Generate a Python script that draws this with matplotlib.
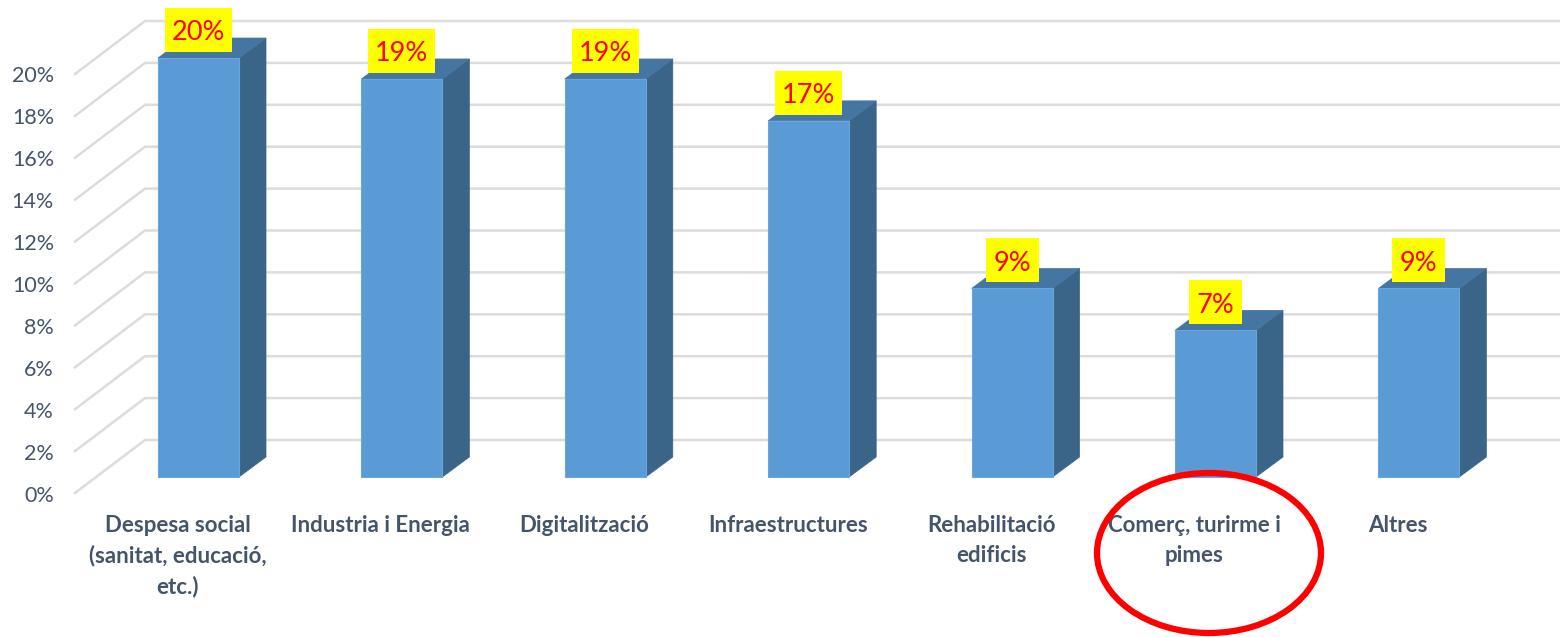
import matplotlib
matplotlib.use('Agg')
import matplotlib.pyplot as plt
from matplotlib.patches import Ellipse, Polygon, Rectangle

# data
categories = ['Despesa social\n(sanitat, educació,\netc.)', 'Industria i Energia', 'Digitalització',
              'Infraestructures', 'Rehabilitació\nedificis', 'Comerç, turirme i\npimes', 'Altres']
values = [20, 19, 19, 17, 9, 7, 9]
y_ticks = [0, 2, 4, 6, 8, 10, 12, 14, 16, 18, 20]

TEXT = '#44546A'
GRID = '#DCDCDC'
FRONT = '#5B9BD5'
TOP = '#4575A1'
SIDE = '#3A6588'

plt.rcParams['font.family'] = ['Lato', 'DejaVu Sans']

fig = plt.figure(figsize=(15.6, 6.37), dpi=100)
ax = fig.add_axes([0, 0, 1, 1])

# one category = 203.4 px, one percent = 20.95 px
ux = 203.4
uy = 20.95
ax.set_xlim(-198.5 / ux, (1560 - 198.5) / ux)
ax.set_ylim(-160 / uy, 477 / uy)
ax.axis('off')

half = 40.5 / ux
dx = 27 / ux
dy = 20 / uy

# grid on the side wall and the back wall
wall_x0 = (75 - 198.5) / ux
wall_x1 = (145 - 198.5) / ux
wall_x2 = (1560 - 198.5) / ux
for t in y_ticks:
    ax.plot([wall_x0, wall_x1, wall_x2], [t - 16 / uy, t + 37 / uy, t + 37 / uy],
            color=GRID, lw=1.8, zorder=1, solid_joinstyle='miter')
    ax.text((54 - 198.5) / ux, t - 18.5 / uy, f'{t}%', ha='right', va='center', color=TEXT, fontsize=15.5)

# bars with fake depth
for i, v in enumerate(values):
    l = i - half
    r = i + half
    ax.add_patch(Polygon([(r, 0), (r + dx, dy), (r + dx, v + dy), (r, v)], fc=SIDE, ec=SIDE, lw=0.5, zorder=2))
    ax.add_patch(Polygon([(l, v), (l + dx, v + dy), (r + dx, v + dy), (r, v)], fc=TOP, ec=TOP, lw=0.5, zorder=2))
    ax.add_patch(Rectangle((l, 0), r - l, v, fc=FRONT, ec='#6AA5DB', lw=0.8, zorder=3))

    # yellow label box, wider for two digits
    box_w = (67 if v >= 10 else 53) / ux
    ax.add_patch(Rectangle((i - box_w / 2, v + 6 / uy), box_w, 44 / uy, fc='#FFFF00', ec='none', zorder=4))
    ax.text(i, v + 25 / uy, f'{v}%', ha='center', va='center', color='#FF0000', fontsize=19.5, zorder=5)

    ax.text(i - 21 / ux, -38 / uy, categories[i], ha='center', va='top', color=TEXT, fontsize=16,
            fontweight='bold', linespacing=1.5, zorder=4)

# hand drawn circle around the category
ax.add_patch(Ellipse(((1209 - 198.5) / ux, (477 - 553) / uy), 224 / ux, 160 / uy, fc='none', ec='#FF0000',
                     lw=4.5, zorder=6, clip_on=False))

fig.savefig('out.png', dpi=100)
